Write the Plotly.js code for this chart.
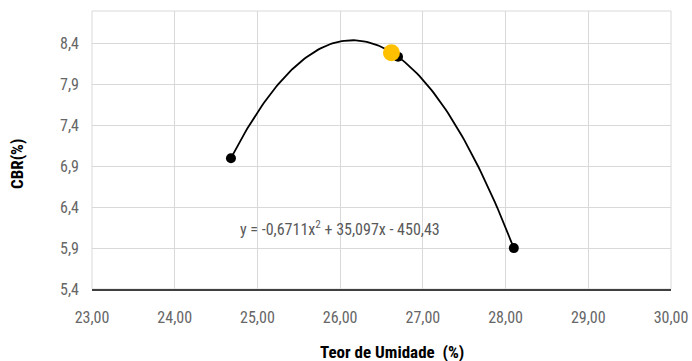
<!DOCTYPE html>
<html>
<head>
<meta charset="utf-8">
<script src="https://cdn.plot.ly/plotly-3.0.1.min.js"></script>
<style>html,body{margin:0;padding:0;background:#fff;}#chart{width:692px;height:361px;}</style>
</head>
<body>
<div id="chart"></div>
<script>
// Data
const umidade = [24.68, 26.70, 28.10];
const cbr = [7.00, 8.24, 5.90];
const otimoX = [26.62];
const otimoY = [8.29];
const equationText = 'y = -0,6711x<sup>2</sup> + 35,097x - 450,43';
const xTitle = 'Teor de Umidade  (%)';
const yTitle = 'CBR(%)';

// quadratic trend fitted through the data points (as Excel's polynomial trendline)
function fitQuadratic(xs, ys) {
  const n = xs.length;
  let S = [0,0,0,0,0], T = [0,0,0];
  for (let i = 0; i < n; i++) {
    for (let k = 0; k < 5; k++) S[k] += Math.pow(xs[i], k);
    for (let k = 0; k < 3; k++) T[k] += ys[i] * Math.pow(xs[i], k);
  }
  const A = [[S[0],S[1],S[2],T[0]],[S[1],S[2],S[3],T[1]],[S[2],S[3],S[4],T[2]]];
  for (let c = 0; c < 3; c++) {
    let p = c;
    for (let r = c+1; r < 3; r++) if (Math.abs(A[r][c]) > Math.abs(A[p][c])) p = r;
    [A[c], A[p]] = [A[p], A[c]];
    for (let r = 0; r < 3; r++) if (r !== c) {
      const f = A[r][c] / A[c][c];
      for (let k = c; k < 4; k++) A[r][k] -= f * A[c][k];
    }
  }
  return [A[0][3]/A[0][0], A[1][3]/A[1][1], A[2][3]/A[2][2]];
}
const coef = fitQuadratic(umidade, cbr);
const trendX = [], trendY = [];
const x0 = Math.min(...umidade), x1 = Math.max(...umidade);
for (let i = 0; i <= 120; i++) {
  const x = x0 + (x1 - x0) * i / 120;
  trendX.push(x);
  trendY.push(coef[0] + coef[1]*x + coef[2]*x*x);
}

const FONT = '"Liberation Sans Narrow", "Arial Narrow", "Roboto Condensed", "Liberation Sans", sans-serif';

const traces = [
  {x: trendX, y: trendY, mode: 'lines', line: {color: '#000000', width: 1.8}, hoverinfo: 'skip'},
  {x: umidade, y: cbr, mode: 'markers', marker: {color: '#000000', size: 10}},
  {x: otimoX, y: otimoY, mode: 'markers', marker: {color: '#FFC000', size: 17}}
];

const layout = {
  width: 692, height: 361,
  margin: {l: 92, r: 21, t: 11, b: 72},
  paper_bgcolor: '#ffffff', plot_bgcolor: '#ffffff',
  showlegend: false,
  separators: ',.',
  font: {family: FONT, color: '#595959', size: 16},
  xaxis: {
    range: [23, 30], tick0: 23, dtick: 1, tickformat: '.2f',
    showgrid: true, gridcolor: '#d9d9d9', gridwidth: 1,
    showline: true, linecolor: '#404040', linewidth: 1.5,
    zeroline: false, ticks: '', ticklabelstandoff: 13,
    tickfont: {family: FONT, size: 16, color: '#666666'}
  },
  yaxis: {
    range: [5.4, 8.8], tick0: 5.4, dtick: 0.5, tickformat: '.1f',
    showgrid: true, gridcolor: '#d9d9d9', gridwidth: 1,
    showline: false, zeroline: false, ticks: '', ticklabelstandoff: 12,
    tickfont: {family: FONT, size: 16, color: '#666666'}
  },
  shapes: [
    {type: 'rect', xref: 'paper', yref: 'paper', x0: 0, x1: 1, y0: 0, y1: 1,
     line: {color: '#d9d9d9', width: 1}, layer: 'below'}
  ],
  annotations: [
    {text: equationText, xref: 'x', yref: 'y', x: 24.77, y: 6.14, xanchor: 'left', yanchor: 'middle',
     showarrow: false, font: {family: FONT, size: 16, color: '#595959'}},
    {text: '<b>' + xTitle + '</b>', xref: 'paper', yref: 'paper', x: (392-92)/579, y: -(352-289)/278,
     xanchor: 'center', yanchor: 'middle', showarrow: false, font: {family: FONT, size: 17, color: '#000000'}},
    {text: '<b>' + yTitle + '</b>', xref: 'paper', yref: 'paper', x: -(92-17)/579, y: (289-164)/278,
     xanchor: 'center', yanchor: 'middle', textangle: -90, showarrow: false, font: {family: FONT, size: 17, color: '#000000'}}
  ]
};

Plotly.newPlot('chart', traces, layout, {displayModeBar: false, staticPlot: true});
</script>
</body>
</html>
